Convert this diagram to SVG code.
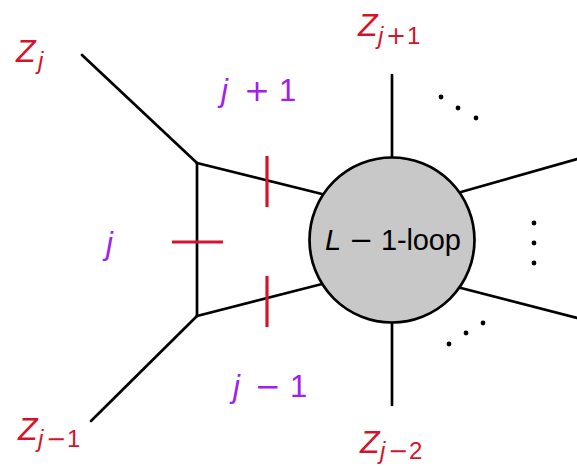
<svg xmlns="http://www.w3.org/2000/svg" width="577" height="466" viewBox="0 0 577 466">
<style>
.l{stroke:#000;stroke-width:2.7;fill:none;stroke-linecap:round}
.t{stroke:#d2142c;stroke-width:3.2;fill:none}
.z{fill:#d2142c;font-family:"Liberation Sans",Arial,sans-serif;font-size:32px}
.p{fill:#a020f0;font-family:"Liberation Sans",Arial,sans-serif;font-size:31px}
.s{font-size:24px}
.i{font-style:italic}
.op{font-family:"DejaVu Sans",sans-serif}
.dot{fill:#000}
</style>
<rect width="577" height="466" fill="#fff"/>
<g id="connectors">
<line class="l" x1="82" y1="55" x2="197" y2="163"/>
<line class="l" x1="197" y1="316" x2="91" y2="421"/>
<line class="l" x1="197" y1="163" x2="197" y2="316"/>
<line class="l" x1="197" y1="163" x2="322" y2="194"/>
<line class="l" x1="197" y1="316" x2="322" y2="284"/>
<line class="l" x1="392" y1="75" x2="392" y2="157"/>
<line class="l" x1="392" y1="323" x2="392" y2="405"/>
<line class="l" x1="461" y1="192" x2="577" y2="159"/>
<line class="l" x1="461" y1="288" x2="577" y2="318"/>
</g>
<g id="cuts">
<line class="t" x1="267" y1="156" x2="267" y2="207"/>
<line class="t" x1="267" y1="276" x2="267" y2="327"/>
<line class="t" x1="172" y1="242" x2="223" y2="242"/>
</g>
<g id="blob">
<circle cx="392" cy="240" r="82.5" fill="#c8c8c8" stroke="#000" stroke-width="2.7"/>
<text x="325" y="250" font-family="Liberation Sans,Arial,sans-serif" font-size="29" fill="#000" textLength="136" lengthAdjust="spacing"><tspan font-style="italic">L</tspan> <tspan class="op">−</tspan> 1-loop</text>
</g>
<g id="dots">
<circle class="dot" cx="441" cy="97" r="2.4"/>
<circle class="dot" cx="458" cy="108" r="2.4"/>
<circle class="dot" cx="476" cy="118" r="2.4"/>
<circle class="dot" cx="534" cy="223" r="2.4"/>
<circle class="dot" cx="534" cy="243" r="2.4"/>
<circle class="dot" cx="534" cy="263" r="2.4"/>
<circle class="dot" cx="449" cy="344" r="2.4"/>
<circle class="dot" cx="466" cy="333" r="2.4"/>
<circle class="dot" cx="483" cy="323" r="2.4"/>
</g>
<g id="labels">
<text class="z"><tspan class="i" x="16" y="62">Z</tspan><tspan class="s i" x="38" y="69">j</tspan></text>
<text class="z"><tspan class="i" x="358" y="36">Z</tspan><tspan class="s i" x="378" y="44">j</tspan><tspan class="s op" x="386" y="44">+</tspan><tspan class="s" x="407" y="44">1</tspan></text>
<text class="z"><tspan class="i" x="18" y="440">Z</tspan><tspan class="s i" x="38" y="447">j</tspan><tspan class="s op" x="46" y="447">−</tspan><tspan class="s" x="67" y="447">1</tspan></text>
<text class="z"><tspan class="i" x="360" y="453">Z</tspan><tspan class="s i" x="380" y="459">j</tspan><tspan class="s op" x="388" y="459">−</tspan><tspan class="s" x="409" y="459">2</tspan></text>
<text class="p"><tspan class="i" x="221" y="101">j</tspan><tspan class="op" x="244" y="101">+</tspan><tspan x="279" y="101">1</tspan></text>
<text class="p i" x="106" y="254">j</text>
<text class="p"><tspan class="i" x="233" y="397">j</tspan><tspan class="op" x="255" y="397">−</tspan><tspan x="290" y="397">1</tspan></text>
</g>
</svg>
